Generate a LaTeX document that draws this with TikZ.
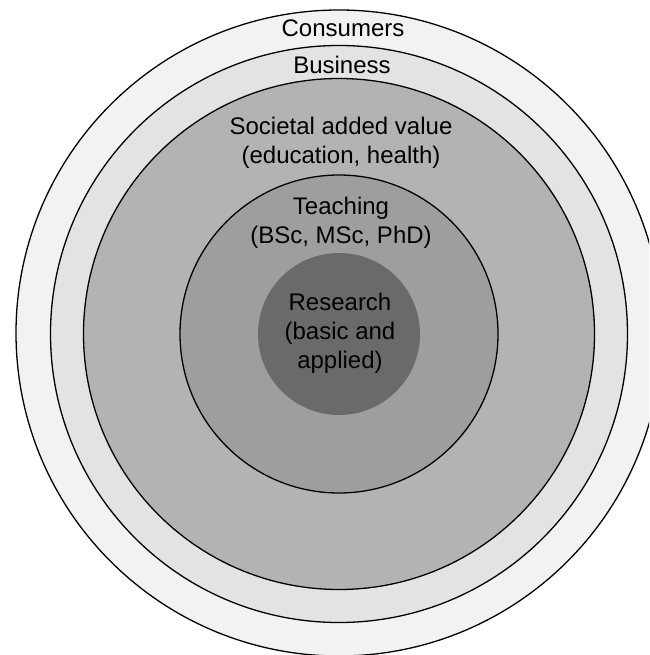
\documentclass[tikz,border=0pt]{standalone}
\usepackage{fontspec}
\setmainfont{Liberation Sans}
\usepackage{xcolor}
\usepackage{tikz}
\usetikzlibrary{calc}

\definecolor{consumersgray}{HTML}{F2F2F2}
\definecolor{businessgray}{HTML}{E3E3E3}
\definecolor{societalgray}{HTML}{B3B3B3}
\definecolor{teachinggray}{HTML}{9E9E9E}
\definecolor{researchgray}{HTML}{6A6A6A}

\begin{document}
\begin{tikzpicture}[
    x=1pt, y=-1pt,
    ring/.style={circle, draw=black, line width=1.3pt, inner sep=0pt},
    core/.style={circle, draw=none, inner sep=0pt},
    lbl/.style={align=center, inner sep=0pt, font=\fontsize{24}{29}\selectfont}
]
\useasboundingbox (0,0) rectangle (649,655);
\clip (0,0) rectangle (649,655);
\coordinate (c) at (339,334);

% Rings
\node[ring, fill=consumersgray, minimum size=646pt] (consumers) at ($(c)+(0,-1)$) {};
\node[ring, fill=businessgray, minimum size=577pt] (business) at (c) {};
\node[ring, fill=societalgray, minimum size=511pt] (societal) at (c) {};
\node[ring, fill=teachinggray, minimum size=318pt] (teaching) at (c) {};
\node[core, fill=researchgray, minimum size=162pt] (research) at (c) {};

% Labels
\node[lbl] (consumerslbl) at (343,28) {Consumers};
\node[lbl] (businesslbl) at (342,65) {Business};
\node[lbl] (societallbl) at (341,143) {Societal added value\\(education, health)};
\node[lbl] (teachinglbl) at (341,223) {Teaching\\(BSc, MSc, PhD)};
\node[lbl] (researchlbl) at (340,333) {Research\\(basic and\\applied)};

\end{tikzpicture}
\end{document}
